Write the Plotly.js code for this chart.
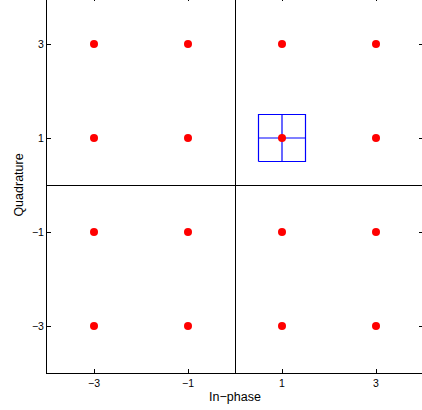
<!DOCTYPE html>
<html>
<head>
<meta charset="utf-8">
<script src="https://cdn.plot.ly/plotly-3.0.1.min.js"></script>
<style>
html,body{margin:0;padding:0;overflow:hidden;background:#fff;width:422px;height:410px;}
#chart{position:absolute;left:0;top:-3px;width:426px;height:414px;}
</style>
</head>
<body>
<div id="chart"></div>
<script>
// 16-QAM constellation points
const inPhase    = [-3, -3, -3, -3, -1, -1, -1, -1, 1, 1, 1, 1, 3, 3, 3, 3];
const quadrature = [-3, -1, 1, 3, -3, -1, 1, 3, -3, -1, 1, 3, -3, -1, 1, 3];
// Highlighted decision region around (1, 1)
const boxX   = [0.5, 1.5, 1.5, 0.5, 0.5];
const boxY   = [0.5, 0.5, 1.5, 1.5, 0.5];
const crossHX = [0.5, 1.5];
const crossHY = [1, 1];
const crossVX = [1, 1];
const crossVY = [0.5, 1.5];
const tickVals = [-3, -1, 1, 3];

const blueLine = {color: '#0000ff', width: 1.2};
const traces = [
  {x: boxX, y: boxY, mode: 'lines', line: blueLine, hoverinfo: 'skip'},
  {x: crossHX, y: crossHY, mode: 'lines', line: blueLine, hoverinfo: 'skip'},
  {x: crossVX, y: crossVY, mode: 'lines', line: blueLine, hoverinfo: 'skip'},
  {x: inPhase, y: quadrature, mode: 'markers', marker: {color: '#ff0000', size: 8}}
];

const axisCommon = {
  range: [-4, 4],
  tickvals: tickVals,
  ticks: 'inside',
  ticklen: 4,
  tickwidth: 1,
  tickcolor: '#000',
  showline: true,
  linecolor: '#000',
  linewidth: 1,
  mirror: 'ticks',
  showgrid: false,
  zeroline: true,
  zerolinecolor: '#000',
  zerolinewidth: 1,
  tickfont: {family: 'Liberation Sans, Arial, sans-serif', size: 10.5, color: '#000'},
  fixedrange: true
};

const layout = {
  width: 426,
  height: 414,
  margin: {l: 47, r: 3, t: 0, b: 38},
  paper_bgcolor: '#fff',
  plot_bgcolor: '#fff',
  showlegend: false,
  xaxis: Object.assign({}, axisCommon, {
    title: {text: 'In−phase', font: {family: 'Liberation Sans, Arial, sans-serif', size: 12.5, color: '#000'}, standoff: 4}
  }),
  yaxis: Object.assign({}, axisCommon, {
    title: {text: 'Quadrature', font: {family: 'Liberation Sans, Arial, sans-serif', size: 12.5, color: '#000'}, standoff: 5}
  })
};

Plotly.newPlot('chart', traces, layout, {displayModeBar: false, staticPlot: true});
</script>
</body>
</html>
